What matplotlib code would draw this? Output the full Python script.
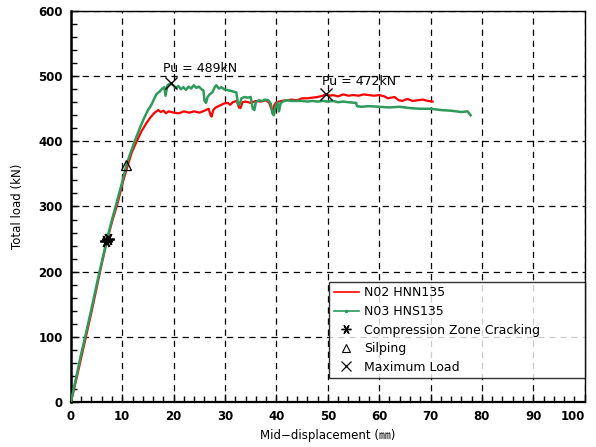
import matplotlib
matplotlib.use("Agg")
import matplotlib.pyplot as plt
from matplotlib.lines import Line2D
from matplotlib.ticker import MultipleLocator

plt.rcParams['font.family'] = ['DejaVu Sans', 'Noto Sans CJK KR']
plt.rcParams['lines.scale_dashes'] = False

# N02 HNN135 (red) load-displacement record
n02_disp = [0, 1, 2, 3, 4, 5, 6, 6.9, 7.5, 8.2, 8.9, 9.5, 10.2, 11.1, 11.8, 12.8,
            13.7, 14.7, 15.5, 16.3, 17, 17.5, 18, 18.5, 19, 19.5, 20, 21, 22, 23,
            24, 25, 26, 26.8, 27.2, 27.4, 27.7, 28.2, 29, 29.8, 30.5, 31, 31.5,
            32.3, 32.7, 33, 33.4, 34, 35, 36, 37, 38, 38.6, 39, 39.3, 39.6, 40,
            41, 42, 43, 44, 45, 46, 47, 48, 49, 49.6, 50.5, 51, 52, 53, 54, 55,
            56, 57, 58, 59, 60, 61, 61.7, 62.3, 63, 63.8, 64.5, 65.5, 66.5, 67.5,
            68.5, 69.5, 70.4]
n02_load = [0, 33, 68, 103, 138, 175, 212, 243, 262, 282, 300, 318, 340, 364, 382,
            400, 415, 428, 437, 444, 448, 445, 447, 443, 446, 445, 444, 443, 446,
            444, 446, 444, 447, 450, 440, 438, 448, 452, 455, 458, 459, 456, 460,
            462, 452, 451, 460, 461, 459, 462, 461, 463, 459, 450, 448, 456, 460,
            462, 463, 464, 463, 466, 466, 467, 468, 470, 472, 470, 471, 469, 472,
            470, 471, 470, 472, 471, 470, 471, 469, 466, 467, 468, 463, 462, 465,
            462, 463, 464, 462, 461]

# N03 HNS135 (green) load-displacement record
n03_disp = [0, 1, 2, 3, 4, 5, 6, 7, 8, 9, 10, 10.8, 11.5, 12.4, 13, 13.6, 14.2,
            15, 15.6, 16.2, 16.6, 17.2, 17.8, 18.2, 18.4, 18.8, 19.4, 19.9, 20.4,
            20.9, 21.4, 21.9, 22.4, 22.9, 23.4, 23.9, 24.4, 24.9, 25.4, 25.8, 26.0,
            26.3, 26.6, 27.0, 27.5, 28.0, 28.3, 28.8, 29.3, 29.8, 30.3, 30.8, 31.3,
            31.8, 32.2, 32.5, 32.8, 33.2, 33.8, 34.4, 35.0, 35.4, 35.7, 36.0, 36.6,
            37.2, 37.8, 38.4, 38.9, 39.2, 39.5, 39.8, 40.2, 40.5, 40.8, 41.2, 42,
            43, 44, 45, 46, 47, 48, 49, 50, 51, 52, 53, 54, 55.5, 55.7, 56.5, 58,
            60, 62, 64, 66, 68, 70, 72, 74, 75, 76, 77.2, 77.8]
n03_load = [0, 37, 74, 108, 143, 180, 215, 249, 280, 309, 338, 364, 380, 400, 412,
            424, 435, 448, 455, 465, 472, 476, 481, 483, 470, 486, 489, 486, 482,
            485, 480, 483, 479, 484, 481, 486, 482, 484, 480, 478, 462, 459, 468,
            472, 475, 483, 486, 481, 483, 480, 479, 478, 477, 476, 475, 458, 456,
            466, 468, 467, 468, 450, 448, 460, 463, 462, 464, 463, 458, 443, 440,
            452, 460, 446, 458, 461, 463, 462, 462, 462, 461, 462, 461, 462, 461,
            462, 460, 461, 460, 459, 454, 453, 454, 453, 452, 453, 451, 450, 450,
            448, 447, 446, 445, 446, 440]

# Event markers
crack_disp = [6.8, 7.2]
crack_load = [247, 250]
slip_disp = [10.8]
slip_load = [364]
max_disp = [19.4, 49.6]
max_load = [489, 472]
max_labels = ["Pu = 489kN", "Pu = 472kN"]
label_pos = [(17.9, 512), (48.9, 492)]

x_ticks = list(range(0, 101, 10))
y_ticks = list(range(0, 601, 100))

fig = plt.figure(figsize=(5.96, 4.47), dpi=100)
ax = fig.add_axes([0.119, 0.1007, 0.862, 0.8747])

red = "#ff0000"
green = "#2e9a5c"
ax.plot(n02_disp, n02_load, color=red, lw=1.6, zorder=3)
ax.plot(n03_disp, n03_load, color=green, lw=1.8, zorder=4)

ax.plot(crack_disp, crack_load, ls="none", marker=(6, 2, 30), ms=9,
        mec="black", mew=1.3, zorder=6)
ax.plot(slip_disp, slip_load, ls="none", marker="^", ms=7, mfc="none",
        mec="black", mew=0.9, zorder=6)
ax.plot(max_disp, max_load, ls="none", marker="x", ms=8, mec="black",
        mew=1.0, zorder=6)
for txt, (tx, ty) in zip(max_labels, label_pos):
    ax.text(tx, ty, txt, fontsize=9, va="center", ha="left", zorder=7)

ax.set_xticks(x_ticks, [str(v) for v in x_ticks])
ax.set_yticks(y_ticks, [str(v) for v in y_ticks])
ax.xaxis.set_minor_locator(MultipleLocator(2))
ax.yaxis.set_minor_locator(MultipleLocator(20))
ax.set_xlim(0, 100)
ax.set_ylim(0, 600)
ax.tick_params(which="both", direction="in", top=False, right=False,
               labelsize=8.5, width=1.0, color="black", pad=6)
ax.tick_params(which="major", length=6)
ax.tick_params(which="minor", length=4)
for lab in ax.get_xticklabels() + ax.get_yticklabels():
    lab.set_fontweight("bold")
ax.get_xticklabels()[-1].set_horizontalalignment("right")

ax.grid(True, which="major", color="black", lw=0.9, ls=(0, (4.5, 3.5)))
ax.set_axisbelow(True)

ax.spines["left"].set_linewidth(1.8)
ax.spines["bottom"].set_linewidth(1.6)
ax.spines["top"].set_linewidth(1.0)
ax.spines["right"].set_linewidth(1.0)

ax.set_xlabel("Mid\u2212displacement (\u339c)", fontsize=8.5, labelpad=4)
ax.set_ylabel("Total load (kN)", fontsize=8.5, labelpad=10)

handles = [
    Line2D([], [], color=red, lw=1.2),
    Line2D([], [], color=green, lw=1.2, marker=".", ms=3),
    Line2D([], [], ls="none", marker=(6, 2, 30), ms=7, mec="black", mew=1.0),
    Line2D([], [], ls="none", marker="^", ms=6, mfc="none", mec="black", mew=0.8),
    Line2D([], [], ls="none", marker="x", ms=7, mec="black", mew=0.9),
]
names = ["N02 HNN135", "N03 HNS135", "Compression Zone Cracking", "Silping",
         "Maximum Load"]
leg = ax.legend(handles, names, loc="lower left",
                bbox_to_anchor=(0.503, 0.061, 0.497, 0.271), mode="expand",
                borderaxespad=0, fontsize=9, frameon=True, fancybox=False,
                edgecolor="black", handlelength=2.0, handletextpad=0.4,
                labelspacing=0.45, borderpad=0.35)
leg.get_frame().set_linewidth(1.0)
leg.set_zorder(8)

fig.savefig("out.png", dpi=100)
